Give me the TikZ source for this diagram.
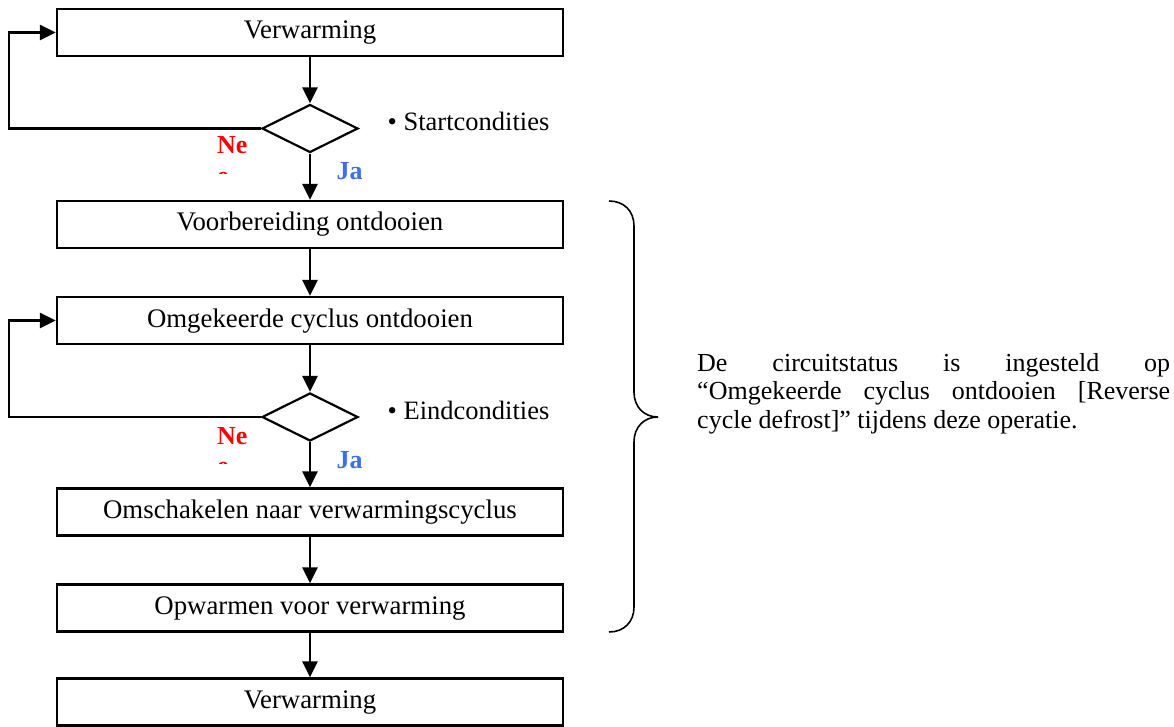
\documentclass[tikz,border=0pt]{standalone}
\usepackage{fontspec}
\setmainfont{Liberation Serif}
\usetikzlibrary{shapes.geometric,arrows.meta}
\definecolor{nered}{RGB}{255,0,0}
\definecolor{jablue}{RGB}{60,110,240}
\begin{document}
\begin{tikzpicture}[x=1pt,y=-1pt,
  stepbox/.style={draw,line width=2.2pt,minimum width=506pt,minimum height=47pt,inner sep=0pt,
    text height=18pt,text depth=5pt,font=\fontsize{26.8}{30}\selectfont},
  decision/.style={draw,diamond,line width=2.2pt,minimum width=96pt,minimum height=48pt,inner sep=0pt,aspect=2},
  flow/.style={line width=2.8pt,-{Triangle[length=16pt,width=15pt]}},
  lbl/.style={font=\fontsize{26.5}{30}\selectfont,inner sep=0pt,anchor=base west},
  para/.style={font=\fontsize{26}{30}\selectfont,inner sep=0pt,anchor=base west},
  nolbl/.style={lbl,font=\fontsize{26}{30}\selectfont\bfseries,text=nered},
  jalbl/.style={lbl,font=\fontsize{26}{30}\selectfont\bfseries,text=jablue},
  bracestyle/.style={line width=1.6pt}
]
\useasboundingbox (0,0) rectangle (1174,727);
% boxes
\node[stepbox] (b1) at (310,32.5) {Verwarming};
\node[decision] (d1) at (310,128.5) {};
\node[stepbox] (b2) at (310,224.5) {Voorbereiding ontdooien};
\node[stepbox] (b3) at (310,320.5) {Omgekeerde cyclus ontdooien};
\node[decision] (d2) at (310,417) {};
\node[stepbox] (b4) at (310,512) {Omschakelen naar verwarmingscyclus};
\node[stepbox] (b5) at (310,608) {Opwarmen voor verwarming};
\node[stepbox] (b6) at (310,702) {Verwarming};
% main flow
\draw[flow] (b1) -- (d1);
\draw[flow] (d1) -- (b2);
\draw[flow] (b2) -- (b3);
\draw[flow] (b3) -- (d2);
\draw[flow] (d2) -- (b4);
\draw[flow] (b4) -- (b5);
\draw[flow] (b5) -- (b6);
% feedback loops
\coordinate (fbx) at (9,0);
\draw[flow] (d1.west) -- (fbx |- d1.west) |- (b1.west);
\draw[flow] (d2.west) -- (fbx |- d2.west) |- (b3.west);
% condition labels
\node[lbl] (sc) at (387.5,131) {• Startcondities};
\node[lbl] (ec) at (387.5,419) {• Eindcondities};
\node[nolbl] (ne1) at (217,154) {Ne};
\node[jalbl] (ja1) at (336.5,180) {Ja};
\node[nolbl] (ne2) at (217,444) {Ne};
\node[jalbl] (ja2) at (336.5,468) {Ja};
\begin{scope}
  \clip (210,160) rectangle (240,173.5);
  \node[nolbl] (ne1b) at (217,184.5) {e};
\end{scope}
\begin{scope}
  \clip (210,450) rectangle (240,463.5);
  \node[nolbl] (ne2b) at (217,474.5) {e};
\end{scope}
% brace
\draw[bracestyle] (609,201) .. controls (624,201) and (634,211) .. (634,226)
  -- (634,392) .. controls (634,407) and (644,417) .. (658,417)
  .. controls (644,417) and (634,427) .. (634,442)
  -- (634,607) .. controls (634,622) and (624,632) .. (609,632);
% explanation
\node[para] (p1) at (697,371) {\makebox[473pt][s]{De circuitstatus is ingesteld op}};
\node[para] (p2) at (697,399.5) {\makebox[473pt][s]{“Omgekeerde cyclus ontdooien [Reverse}};
\node[para] (p3) at (697,428) {cycle defrost]” tijdens deze operatie.};
\end{tikzpicture}
\end{document}
